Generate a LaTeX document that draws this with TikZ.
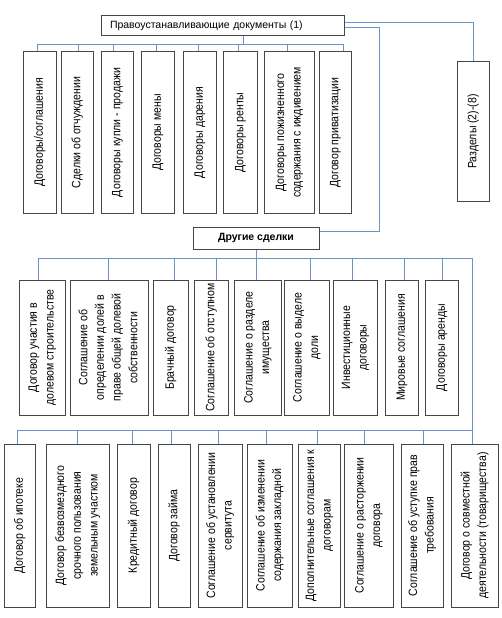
\documentclass[tikz,border=0pt]{standalone}
\usepackage{fontspec}
\setmainfont{Liberation Sans}
\usepackage{graphicx}
\usepackage{tikz}
\definecolor{linkblue}{RGB}{110,145,198}
\definecolor{boxgray}{RGB}{70,70,70}
\newcommand{\vlines}[1]{\scalebox{1}[1.15]{\begin{tabular}{@{}c@{}}#1\end{tabular}}}
\tikzset{
	every path/.style = {line width=0.8pt},
	every node/.style = {font=\fontsize{10.5}{14.5}\selectfont, inner sep=1pt},
	link/.style = {draw=linkblue},
	box/.style = {draw=boxgray, line width=1pt, fill=white},
	vbox/.style = {box, rotate=90, align=center}
}

\begin{document}
\begin{tikzpicture}[x=1pt,y=-1pt,
	rowa/.style={vbox, minimum width=161pt},
	rowb/.style={vbox, minimum width=135pt},
	rowc/.style={vbox, minimum width=163pt}]
	\useasboundingbox (0,0) rectangle (502,618);
	\node[box, minimum width=243pt, minimum height=20pt, text width=225pt, inner xsep=9pt, align=left] (top) at (222.5,26) {Правоустанавливающие документы (1)};
	\node[rowa, minimum height=33pt] (a1) at (39.5,132.5) {\vlines{Договоры/соглашения}};
	\node[rowa, minimum height=32pt] (a2) at (77,132.5) {\vlines{Сделки об отчуждении}};
	\node[rowa, minimum height=32pt] (a3) at (117,132.5) {\vlines{Договоры купли - продажи}};
	\node[rowa, minimum height=33pt] (a4) at (157.5,132.5) {\vlines{Договоры мены}};
	\node[rowa, minimum height=33pt] (a5) at (199.5,132.5) {\vlines{Договоры дарения}};
	\node[rowa, minimum height=34pt] (a6) at (240,132.5) {\vlines{Договоры ренты}};
	\node[rowa, minimum height=50pt] (a7) at (289,132.5) {\vlines{Договоры пожизненного\\содержания с иждивением}};
	\node[rowa, minimum height=32pt] (a8) at (335,132.5) {\vlines{Договор приватизации}};
	\node[vbox, minimum width=139pt, minimum height=32pt] (r) at (473,131.5) {\vlines{Разделы (2)-(8)}};
	\node[box, minimum width=126pt, minimum height=22pt, font=\fontsize{10.5}{16}\selectfont\bfseries] (other) at (256,238) {Другие сделки};
	\node[rowb, minimum height=46pt] (b1) at (42,347.5) {\vlines{Договор участия в\\долевом строительстве}};
	\node[rowb, minimum height=78pt] (b2) at (109,347.5) {\vlines{Соглашение об\\определении долей в\\праве общей долевой\\собственности}};
	\node[rowb, minimum height=35pt] (b3) at (170.5,347.5) {\vlines{Брачный договор}};
	\node[rowb, minimum height=34pt] (b4) at (211,347.5) {\vlines{Соглашение об отступном}};
	\node[rowb, minimum height=47pt] (b5) at (257.5,347.5) {\vlines{Соглашение о разделе\\имущества}};
	\node[rowb, minimum height=45pt] (b6) at (306.5,347.5) {\vlines{Соглашение о выделе\\доли}};
	\node[rowb, minimum height=44pt] (b7) at (355,347.5) {\vlines{Инвестиционные\\договоры}};
	\node[rowb, minimum height=33pt] (b8) at (401.5,347.5) {\vlines{Мировые соглашения}};
	\node[rowb, minimum height=33pt] (b9) at (441.5,347.5) {\vlines{Договоры аренды}};
	\node[rowc, minimum height=31pt] (c1) at (19.5,525.5) {\vlines{Договор об ипотеке}};
	\node[rowc, minimum height=63pt] (c2) at (77.5,525.5) {\vlines{Договор безвозмездного\\срочного пользования\\земельным участком}};
	\node[rowc, minimum height=33pt] (c3) at (133.5,525.5) {\vlines{Кредитный договор}};
	\node[rowc, minimum height=32pt] (c4) at (174,525.5) {\vlines{Договор займа}};
	\node[rowc, minimum height=44pt] (c5) at (220,525.5) {\vlines{Соглашение об установлении\\сервитута}};
	\node[rowc, minimum height=45pt] (c6) at (269.5,525.5) {\vlines{Соглашение об изменении\\содержания закладной}};
	\node[rowc, minimum height=42pt] (c7) at (319,525.5) {\vlines{Дополнительные соглашения к\\договорам}};
	\node[rowc, minimum height=49pt] (c8) at (368.5,525.5) {\vlines{Соглашение о расторжении\\договора}};
	\node[rowc, minimum height=42pt] (c9) at (422,525.5) {\vlines{Соглашение об уступке прав\\требования}};
	\node[rowc, minimum height=47pt] (c10) at (474.5,525.5) {\vlines{Договор о совместной\\деятельности (товарищества)}};
	\draw[link] ([xshift=20.5pt]top.south) -- ++(0,9);
	\draw[link] ([xshift=-2.5pt,yshift=7pt]a1.east) -- ([xshift=8pt,yshift=7pt]a8.east);
	\foreach \n/\dx in {a1/-2.5,a2/1,a3/-4,a4/-1.5,a5/-1.5,a6/-2,a7/-2,a8/8}
		\draw[link] (\n.east) ++(\dx,0) -- ++(0,-7);
	\draw[link] ([yshift=4pt]top.east) -| (r.east);
	\draw[link] ([yshift=-1pt]top.east) -| ([xshift=60pt,yshift=7pt]other.east) -- ([yshift=7pt]other.east);
	\draw[link] (other.south) -- ++(0,10);
	\draw[link] ([xshift=-4pt,yshift=21pt]b1.east) -| ([xshift=-2.5pt,yshift=13pt]c10.east);
	\foreach \n/\dx in {b1/-4,b2/-1,b3/3.5,b4/5,b5/-1.5,b6/3.5,b7/-3,b8/2.5,b9/0.5}
		\draw[link] (\n.east) ++(\dx,0) -- ++(0,-21);
	\draw[link] ([xshift=-2.5pt,yshift=13pt]c1.east) -- ([xshift=-2.5pt,yshift=13pt]c10.east);
	\foreach \n/\dx in {c1/-2.5,c2/-0.5,c3/-1.5,c4/-3,c5/-2,c6/-3.5,c7/-2,c8/-4.5,c9/1,c10/-2.5}
		\draw[link] (\n.east) ++(\dx,0) -- ++(0,-13);
\end{tikzpicture}
\end{document}
